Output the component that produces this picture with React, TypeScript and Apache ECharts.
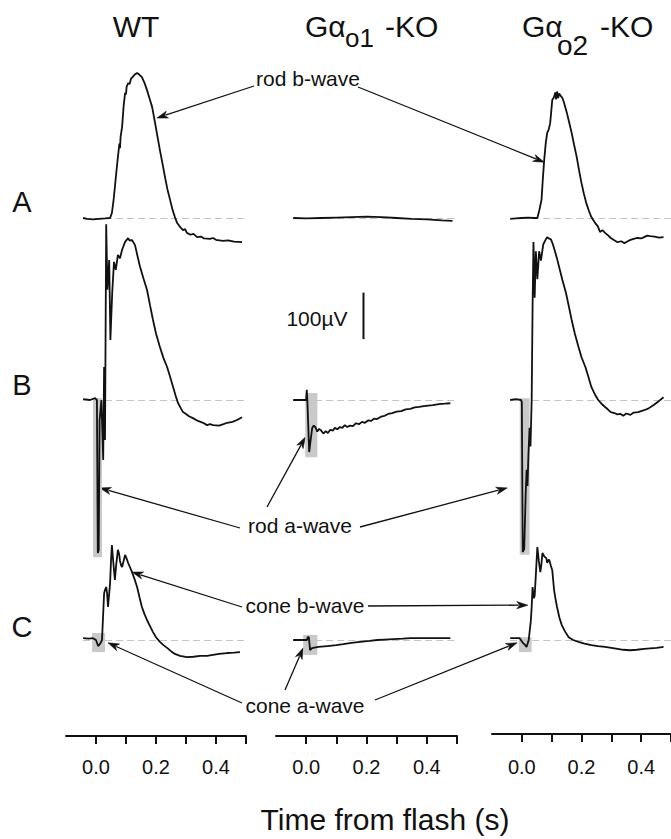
import React, { useEffect, useRef } from 'react';
import * as echarts from 'echarts';

const FONT = '"Liberation Sans", Arial, Helvetica, sans-serif';
const INK = '#111111';

// ---- text content ----
const rowLabels = ['A', 'B', 'C'];
const tickValues = [0, 0.1, 0.2, 0.3, 0.4, 0.5];
const labelValues = [0, 0.2, 0.4];
const xTitle = 'Time from flash (s)';
const scaleBarLabel = '100\u00B5V';

// ---- traces: [time (s), amplitude (µV)] ----
const wtA: number[][] = [[-0.043,0],[-0.03,-2],[-0.01,-3],[0.01,-2],[0.03,-1],[0.047,0],[0.053,11],[0.058,35],[0.063,67],[0.068,100],[0.073,131],[0.078,160],[0.080,150],[0.082,175],[0.087,196],[0.092,240],[0.097,269],[0.100,266],[0.102,282],[0.107,290],[0.112,288],[0.117,300],[0.122,303],[0.128,308],[0.137,312],[0.145,308],[0.153,303],[0.162,290],[0.170,275],[0.178,258],[0.187,239],[0.197,204],[0.205,175],[0.213,146],[0.222,116],[0.230,88],[0.238,62],[0.247,39],[0.255,18],[0.263,2],[0.270,-10],[0.280,-19],[0.290,-26],[0.297,-24],[0.303,-32],[0.315,-36],[0.325,-34],[0.337,-41],[0.35,-40],[0.36,-44],[0.38,-45],[0.39,-43],[0.40,-47],[0.423,-49],[0.44,-48],[0.46,-51],[0.487,-52]];
const ko1A: number[][] = [[-0.043,0],[0.0,-1],[0.05,0],[0.1,1],[0.15,2],[0.2,3],[0.25,2],[0.3,0],[0.35,-2],[0.4,-3],[0.45,-5],[0.485,-6]];
const ko2A: number[][] = [[-0.039,-2],[-0.02,-1],[0,0],[0.02,1],[0.04,0],[0.052,0],[0.058,15],[0.066,39],[0.07,80],[0.075,125],[0.08,160],[0.085,183],[0.09,190],[0.095,204],[0.098,225],[0.102,254],[0.108,260],[0.112,270],[0.115,255],[0.118,272],[0.122,258],[0.125,268],[0.131,262],[0.136,258],[0.141,249],[0.151,226],[0.159,205],[0.167,183],[0.175,158],[0.184,131],[0.192,102],[0.2,75],[0.208,52],[0.216,32],[0.225,15],[0.233,2],[0.24,-5],[0.246,-11],[0.255,-18],[0.262,-30],[0.27,-26],[0.279,-32],[0.29,-38],[0.298,-43],[0.31,-48],[0.321,-52],[0.333,-50],[0.344,-54],[0.355,-50],[0.364,-47],[0.375,-45],[0.387,-43],[0.4,-44],[0.41,-41],[0.42,-38],[0.43,-39],[0.445,-40],[0.46,-42],[0.475,-41]];

const wtB: number[][] = [[-0.043,2],[-0.02,0],[-0.003,4],[0.003,0],[0.006,-329],[0.009,-323],[0.012,-43],[0.018,0],[0.024,-129],[0.027,71],[0.030,-86],[0.034,378],[0.038,237],[0.044,301],[0.048,129],[0.054,230],[0.06,297],[0.066,280],[0.073,312],[0.08,305],[0.087,323],[0.097,340],[0.107,348],[0.112,343],[0.12,344],[0.13,333],[0.14,305],[0.147,286],[0.158,262],[0.17,237],[0.18,204],[0.19,172],[0.2,143],[0.213,114],[0.225,90],[0.237,71],[0.247,50],[0.257,28],[0.265,10],[0.273,-6],[0.283,-18],[0.29,-26],[0.3,-30],[0.31,-35],[0.323,-39],[0.34,-45],[0.357,-49],[0.37,-54],[0.38,-52],[0.39,-54],[0.41,-55],[0.425,-52],[0.437,-49],[0.455,-47],[0.47,-43],[0.487,-37]];
const ko1B: number[][] = [[-0.043,0],[-0.01,0],[0,0],[0.002,22],[0.004,-2],[0.01,-112],[0.015,-85],[0.02,-60],[0.025,-55],[0.03,-58],[0.037,-68],[0.043,-62],[0.05,-66],[0.057,-72],[0.065,-67],[0.072,-71],[0.08,-64],[0.088,-66],[0.095,-60],[0.103,-63],[0.112,-58],[0.12,-60],[0.128,-54],[0.136,-58],[0.145,-55],[0.155,-56],[0.165,-50],[0.175,-52],[0.185,-47],[0.195,-49],[0.205,-44],[0.215,-45],[0.225,-40],[0.235,-41],[0.248,-36],[0.26,-34],[0.272,-30],[0.285,-28],[0.3,-25],[0.315,-24],[0.33,-20],[0.345,-19],[0.36,-16],[0.375,-15],[0.39,-13],[0.405,-12],[0.42,-11],[0.44,-9],[0.46,-8],[0.478,-7]];
const ko2B: number[][] = [[-0.039,0],[-0.02,2],[-0.003,0],[0.0,-4],[0.003,-327],[0.008,-320],[0.013,-200],[0.016,-150],[0.019,-185],[0.022,-120],[0.026,-60],[0.029,-100],[0.033,0],[0.036,200],[0.039,340],[0.043,220],[0.047,320],[0.052,260],[0.058,320],[0.064,300],[0.072,335],[0.08,345],[0.085,350],[0.092,347],[0.098,345],[0.104,335],[0.111,320],[0.118,304],[0.125,286],[0.136,258],[0.148,230],[0.158,200],[0.167,172],[0.178,142],[0.19,114],[0.2,92],[0.213,71],[0.223,50],[0.233,28],[0.245,12],[0.256,0],[0.267,-8],[0.279,-15],[0.288,-20],[0.298,-26],[0.31,-28],[0.32,-31],[0.331,-30],[0.34,-34],[0.35,-29],[0.364,-32],[0.375,-27],[0.39,-26],[0.41,-22],[0.425,-18],[0.443,-10],[0.46,-2],[0.475,6]];

const wtC: number[][] = [[-0.043,4],[-0.025,3],[-0.01,4],[0.0,0],[0.007,-13],[0.014,-8],[0.02,0],[0.023,43],[0.027,100],[0.03,108],[0.034,114],[0.037,100],[0.04,71],[0.044,100],[0.047,123],[0.05,170],[0.053,204],[0.057,172],[0.06,150],[0.063,129],[0.067,160],[0.073,194],[0.077,185],[0.08,170],[0.084,160],[0.087,157],[0.092,170],[0.097,183],[0.102,175],[0.107,166],[0.113,157],[0.12,146],[0.128,132],[0.137,114],[0.145,92],[0.153,71],[0.162,55],[0.17,43],[0.18,30],[0.19,17],[0.2,6],[0.213,-4],[0.225,-11],[0.237,-17],[0.25,-24],[0.263,-30],[0.28,-34],[0.303,-37],[0.325,-36],[0.347,-34],[0.37,-34],[0.39,-32],[0.41,-30],[0.437,-28],[0.46,-27],[0.48,-26]];
const ko1C: number[][] = [[-0.043,0],[-0.02,0],[-0.003,0],[0.003,0],[0.005,6],[0.009,6],[0.013,-22],[0.018,-18],[0.023,-17],[0.04,-15],[0.07,-13],[0.1,-11],[0.123,-9],[0.15,-6],[0.179,-4],[0.21,-2],[0.236,0],[0.26,1],[0.289,2],[0.32,3],[0.346,4],[0.375,4],[0.402,4],[0.44,4],[0.478,4]];
const ko2C: number[][] = [[-0.039,4],[-0.02,4],[-0.007,4],[0.003,-6],[0.01,-10],[0.016,-15],[0.023,0],[0.03,40],[0.033,71],[0.036,114],[0.04,90],[0.043,95],[0.047,140],[0.052,200],[0.057,170],[0.062,146],[0.066,165],[0.069,187],[0.075,180],[0.082,176],[0.085,166],[0.089,172],[0.092,172],[0.097,160],[0.102,150],[0.108,108],[0.113,88],[0.118,71],[0.126,48],[0.134,32],[0.145,18],[0.157,6],[0.172,0],[0.19,-4],[0.21,-8],[0.233,-11],[0.255,-13],[0.279,-15],[0.3,-17],[0.321,-19],[0.34,-21],[0.364,-22],[0.385,-21],[0.41,-19],[0.43,-18],[0.452,-17],[0.475,-15]];

// shaded a-wave regions: [[t0, v0], [t1, v1]] per panel index
const highlights: Record<number, number[][]> = {
  3: [[-0.01, 4], [0.02, -338]],
  4: [[-0.003, 15], [0.037, -123]],
  5: [[-0.007, 4], [0.026, -333]],
  6: [[-0.013, 15], [0.03, -26]],
  7: [[-0.01, 11], [0.037, -32]],
  8: [[-0.01, 6], [0.033, -26]],
};

// 100 µV calibration bar (in panel B of column 2)
const scaleBar: number[][] = [[0.19, 131], [0.19, 231]];

const traces = [
  [wtA, ko1A, ko2A],
  [wtB, ko1B, ko2B],
  [wtC, ko1C, ko2C],
];

// ---- layout ----
const K = 0.465; // px per µV
const rowBase = [218, 400, 640];
const rowRange = [[-100, 400], [-360, 420], [-100, 260]];
const colLeft = [66, 276, 492];
const colWidth = [180, 181, 183];
const axisY = [736, 736, 734];
const tickLabelY = 767;

const annotations = [
  { text: 'rod b-wave', x: 308, y: 78, arrows: [
    { panel: 0, at: [0.203, 215], from: [254, 86] },
    { panel: 2, at: [0.075, 120], from: [358, 87] } ] },
  { text: 'rod a-wave', x: 300, y: 525, arrows: [
    { panel: 3, at: [0.013, -189], from: [240, 528] },
    { panel: 4, at: [-0.003, -80], from: [267, 507] },
    { panel: 5, at: [-0.049, -189], from: [360, 527] } ] },
  { text: 'cone b-wave', x: 305, y: 605, arrows: [
    { panel: 6, at: [0.12, 146], from: [242, 607] },
    { panel: 8, at: [0.02, 75], from: [368, 606] } ] },
  { text: 'cone a-wave', x: 305, y: 705, arrows: [
    { panel: 6, at: [0.04, -6], from: [242, 703] },
    { panel: 7, at: [-0.01, -17], from: [285, 690] },
    { panel: 8, at: [-0.016, -6], from: [375, 700] } ] },
];

function txt(text: string, x: number, y: number, size: number, align = 'center') {
  return {
    type: 'text', x, y, silent: true,
    style: {
      text, fill: INK, fontSize: size, fontFamily: FONT,
      align, verticalAlign: 'middle', textAlign: align, textVerticalAlign: 'middle',
    },
  };
}

export default function App() {
  const ref = useRef<HTMLDivElement>(null);
  useEffect(() => {
    if (!ref.current) return;
    const chart = echarts.init(ref.current, undefined, { renderer: 'svg' });
    const grids: any[] = [];
    const xAxes: any[] = [];
    const yAxes: any[] = [];
    const series: any[] = [];
    for (let r = 0; r < 3; r++) {
      for (let c = 0; c < 3; c++) {
        const idx = r * 3 + c;
        const [lo, hi] = rowRange[r];
        grids.push({ left: colLeft[c], width: colWidth[c], top: rowBase[r] - hi * K, height: (hi - lo) * K, containLabel: false });
        xAxes.push({ type: 'value', gridIndex: idx, min: -0.1, max: 0.5, show: false });
        yAxes.push({ type: 'value', gridIndex: idx, min: lo, max: hi, show: false });
        const data = traces[r][c];
        const s: any = {
          type: 'line', xAxisIndex: idx, yAxisIndex: idx, data,
          showSymbol: false, symbol: 'none', clip: false, z: 3,
          lineStyle: { color: INK, width: 1.8 },
          markLine: {
            silent: true, symbol: ['none', 'none'], animation: false, z: 1,
            label: { show: false },
            lineStyle: { type: [7, 4], color: '#c4c4c4', width: 1.2 },
            data: [[{ coord: [data[0][0], 0] }, { coord: [0.5, 0] }]],
          },
        };
        if (highlights[idx]) {
          const h = highlights[idx];
          s.markArea = {
            silent: true, animation: false,
            itemStyle: { color: '#c9c9c9' },
            data: [[{ coord: h[0] }, { coord: h[1] }]],
          };
        }
        series.push(s);
      }
    }
    // calibration bar
    series.push({
      type: 'line', xAxisIndex: 4, yAxisIndex: 4, data: scaleBar,
      showSymbol: false, symbol: 'none', lineStyle: { color: INK, width: 2 },
    });
    // time axes
    for (let c = 0; c < 3; c++) {
      const idx = 9 + c;
      grids.push({ left: colLeft[c], width: colWidth[c], top: axisY[c] - 1, height: 1 });
      xAxes.push({
        type: 'value', gridIndex: idx, min: -0.1, max: 0.5, position: 'bottom',
        axisLine: { show: true, lineStyle: { color: INK, width: 2 } },
        axisTick: { show: true, customValues: tickValues, length: 8, lineStyle: { color: INK, width: 2 } },
        axisLabel: { show: false },
        splitLine: { show: false },
      });
      yAxes.push({ type: 'value', gridIndex: idx, min: 0, max: 1, show: false });
    }

    chart.setOption({
      animation: false,
      backgroundColor: '#ffffff',
      textStyle: { fontFamily: FONT, color: INK },
      grid: grids, xAxis: xAxes, yAxis: yAxes, series,
    });

    const graphic: any[] = [];
    // tick labels placed through each time axis' scale
    for (let c = 0; c < 3; c++) {
      labelValues.forEach((v) => {
        const px = chart.convertToPixel({ xAxisIndex: 9 + c } as any, v) as number;
        graphic.push(txt(v.toFixed(1), px, tickLabelY, 20));
      });
    }
    // column titles
    graphic.push(txt('WT', 136, 26, 30));
    graphic.push(txt('G\u03B1', 305, 26, 30, 'left'));
    graphic.push(txt('o1', 345, 38, 26, 'left'));
    graphic.push(txt('-KO', 385, 26, 30, 'left'));
    graphic.push(txt('G\u03B1', 522, 26, 30, 'left'));
    graphic.push(txt('o2', 557, 45, 28, 'left'));
    graphic.push(txt('-KO', 600, 26, 30, 'left'));
    // row labels
    const rowLabelY = [202, 385, 627];
    rowLabels.forEach((l, i) => graphic.push(txt(l, 22, rowLabelY[i], 29)));
    graphic.push(txt(scaleBarLabel, 317, 318, 21));
    graphic.push(txt(xTitle, 385, 819, 30));

    annotations.forEach((a) => {
      graphic.push(txt(a.text, a.x, a.y, 21));
      a.arrows.forEach((ar) => {
        const tip = chart.convertToPixel({ gridIndex: ar.panel } as any, ar.at) as number[];
        const [fx, fy] = ar.from;
        const dx = tip[0] - fx, dy = tip[1] - fy;
        const L = Math.sqrt(dx * dx + dy * dy) || 1;
        const ux = dx / L, uy = dy / L;
        const len = 11, half = 3.6;
        const bx = tip[0] - ux * len, by = tip[1] - uy * len;
        graphic.push({
          type: 'line', silent: true,
          shape: { x1: fx, y1: fy, x2: bx + ux * 2, y2: by + uy * 2 },
          style: { stroke: INK, lineWidth: 1.3 },
        });
        graphic.push({
          type: 'polygon', silent: true,
          shape: { points: [[tip[0], tip[1]], [bx - uy * half, by + ux * half], [bx + ux * 3, by + uy * 3], [bx + uy * half, by - ux * half]] },
          style: { fill: INK, stroke: INK, lineWidth: 0.6 },
        });
      });
    });

    chart.setOption({ graphic });
    return () => chart.dispose();
  }, []);
  return <div ref={ref} style={{ position: 'absolute', left: 0, top: 0, width: 671, height: 839, background: '#fff' }} />;
}
